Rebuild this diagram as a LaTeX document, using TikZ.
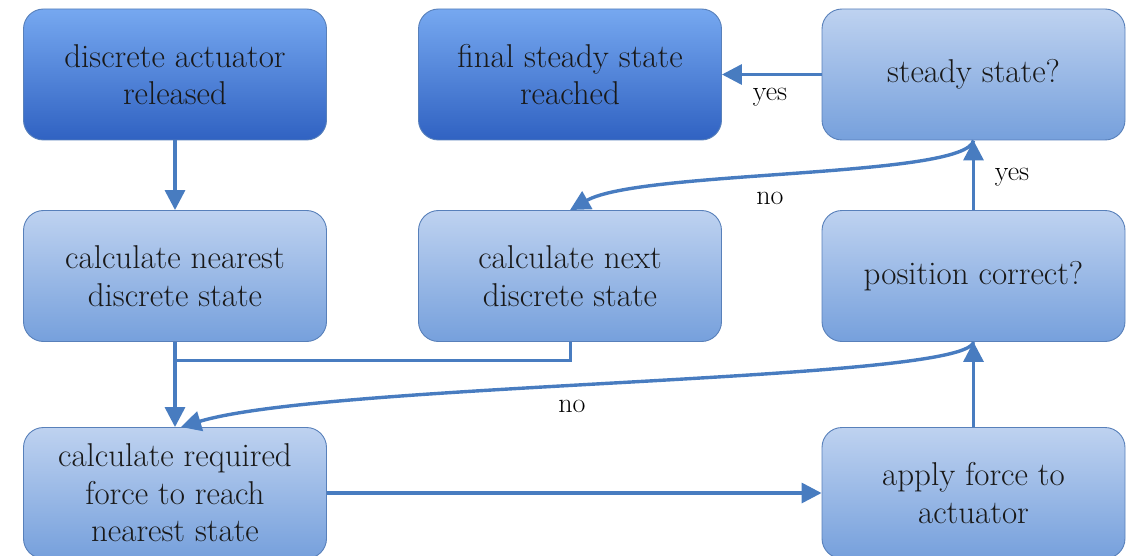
\documentclass[tikz,border=0pt]{standalone}
\usetikzlibrary{arrows.meta}
\definecolor{lnc}{RGB}{72,124,192}
\definecolor{bdc}{RGB}{88,128,186}
\definecolor{ltop}{RGB}{190,210,240}
\definecolor{lbot}{RGB}{118,160,220}
\definecolor{dtop}{RGB}{118,168,240}
\definecolor{dbot}{RGB}{48,98,194}
\tikzset{
  boxbase/.style={draw=bdc, line width=0.9pt, rounded corners=20pt,
    minimum width=303pt, minimum height=131pt, align=center,
    font=\fontsize{33}{37.5}\selectfont, text=black!90, inner sep=0pt},
  lbox/.style={boxbase, top color=ltop, bottom color=lbot},
  dbox/.style={boxbase, top color=dtop, bottom color=dbot},
  conn/.style={draw=lnc, line width=3.4pt, -{Triangle[length=20pt,width=20pt]}},
  plain/.style={draw=lnc, line width=3pt},
  lbl/.style={font=\fontsize{28}{30}\selectfont, text=black}
}
\begin{document}
\begin{tikzpicture}[x=1pt,y=-1pt]
\useasboundingbox (0,0) rectangle (1135,556);
\node[dbox] (rel) at (175,74.5) {discrete actuator\\released};
\node[dbox] (fin) at (570,74.5) {final steady state\\reached};
\node[lbox] (ss) at (973.5,74.5) {steady state?};
\node[lbox] (near) at (175,276) {calculate nearest\\discrete state};
\node[lbox] (next) at (570,276) {calculate next\\discrete state};
\node[lbox] (pos) at (973.5,276) {position correct?};
\node[lbox] (req) at (175,493) {calculate required\\force to reach\\nearest state};
\node[lbox] (app) at (973.5,493) {apply force to\\actuator};
\coordinate (j) at (176,360);
\coordinate (rqn) at (181,427);
% connectors
\draw[conn] (rel.south) -- (near.north);
\draw[conn] (near.south) -- (req.north);
\draw[plain] (next.south) |- (j);
\draw[conn] (req.east) -- (app.west);
\draw[conn] (app.north) -- (pos.south);
\draw[conn] (pos.south) .. controls (966,382) and (330,382) .. (rqn);
\draw[conn] (pos.north) -- (ss.south);
\draw[conn] (ss.south) .. controls (966,178) and (640,170) .. (next.north);
\draw[conn] (ss.west) -- (fin.east);
% labels
\node[lbl] at (770,97) {yes};
\node[lbl] at (1012,177) {yes};
\node[lbl] at (770,198) {no};
\node[lbl] at (572,406) {no};
\end{tikzpicture}
\end{document}
